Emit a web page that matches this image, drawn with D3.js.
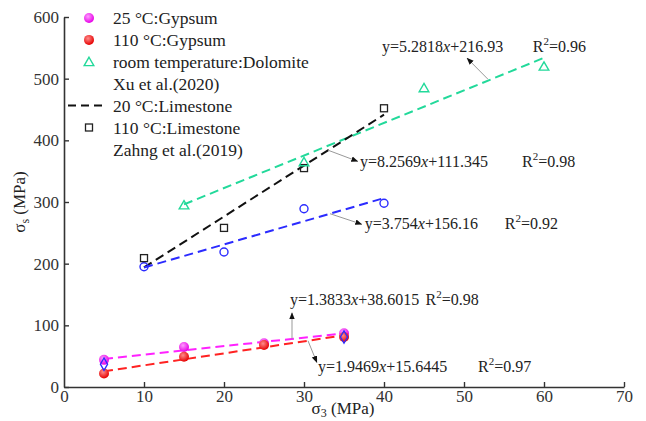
<!DOCTYPE html>
<html>
<head>
<meta charset="utf-8">
<script src="https://cdn.jsdelivr.net/npm/d3@7/dist/d3.min.js"></script>
<style>
  html, body { margin: 0; padding: 0; background: #fff; }
</style>
</head>
<body>
<svg id="chart" width="646" height="421"></svg>
<script>
// Confining pressure values (MPa) for each rock group
const gypsumX = [5, 15, 25, 35];
const gypsum25 = [44, 65, 71, 87];
const gypsum110 = [22, 49, 68, 81];
const extraX = [5, 35];
const extraY = [37, 81];
const dolomiteX = [15, 30, 45, 60];
const dolomiteY = [295, 365, 485, 520];
const limestoneX = [10, 20, 30, 40];
const limestone110 = [209, 258, 355, 452];
const limestone20 = [195, 219, 289, 298];

// Linear fits: slope, intercept, R², x-range
const fitNames = ["dolomite", "limestone110", "limestone20", "gypsum25", "gypsum110"];
const fitSlope = [5.2818, 8.2569, 3.754, 1.3833, 1.9469];
const fitIntercept = [216.93, 111.345, 156.16, 38.6015, 15.6445];
const fitR2 = ["0.96", "0.98", "0.92", "0.98", "0.97"];
const fitFrom = [15, 10, 10, 5, 5];
const fitTo = [60, 40, 40, 35, 35];
const fitColors = ["#22d99a", "#111111", "#2b2bff", "#ff22ff", "#ff2222"];
const fitSlopeText = ["5.2818", "8.2569", "3.754", "1.3833", "1.9469"];
const fitInterceptText = ["216.93", "111.345", "156.16", "38.6015", "15.6445"];
// Equation label anchors (data units): text x, baseline y, R² x, arrow tail, arrow head
const labelX = [39.75, 37, 37.6, 28.25, 31.75];
const labelY = [543, 357, 256, 133, 24];
const r2X = [58.6, 57.25, 55.1, 45.2, 51.75];
const arrowFromX = [53, 33, 33.25, 28.5, 30.5];
const arrowFromY = [499, 384, 281, 78, 75];
const arrowToX = [50.4, 36.7, 37.2, 28.5, 31.6];
const arrowToY = [533, 366, 264, 120, 40];

const xTicks = [0, 10, 20, 30, 40, 50, 60, 70];
const yTicks = [0, 100, 200, 300, 400, 500, 600];

const legendLabels = ["25 °C:Gypsum", "110 °C:Gypsum", "room temperature:Dolomite",
  "Xu et al.(2020)", "20 °C:Limestone", "110 °C:Limestone", "Zahng et al.(2019)"];

const FONT = "'Times New Roman', 'Liberation Serif', 'DejaVu Serif', serif";
const svg = d3.select("#chart").attr("font-family", FONT);
const x = d3.scaleLinear().domain([0, 70]).range([64, 624]);
const y = d3.scaleLinear().domain([0, 600]).range([387, 17]);

const defs = svg.append("defs");
function sphere(id, light, base) {
  const g = defs.append("radialGradient").attr("id", id)
    .attr("cx", "40%").attr("cy", "35%").attr("r", "65%");
  g.append("stop").attr("offset", "0%").attr("stop-color", light);
  g.append("stop").attr("offset", "100%").attr("stop-color", base);
}
sphere("gMag", "#ff9cff", "#e600e6");
sphere("gRed", "#ff8c8c", "#e60000");
defs.append("marker").attr("id", "arrowHead")
  .attr("viewBox", "0 0 10 10").attr("refX", 9).attr("refY", 5)
  .attr("markerWidth", 7).attr("markerHeight", 7).attr("orient", "auto")
  .append("path").attr("d", "M0,1 L10,5 L0,9 Z").attr("fill", "#111");

// Axes with inward ticks
const xAxis = svg.append("g").attr("transform", `translate(0,${y(0)})`)
  .call(d3.axisBottom(x).tickValues(xTicks).tickSizeInner(-5).tickSizeOuter(0).tickPadding(4));
const yAxis = svg.append("g").attr("transform", `translate(${x(0)},0)`)
  .call(d3.axisLeft(y).tickValues(yTicks).tickSizeInner(-5).tickSizeOuter(0).tickPadding(5));
[xAxis, yAxis].forEach(a => {
  a.attr("font-family", FONT).attr("font-size", 17);
  a.select(".domain").attr("stroke", "#333").attr("stroke-width", 1.6);
  a.selectAll(".tick line").attr("stroke", "#333").attr("stroke-width", 1.4);
  a.selectAll(".tick text").attr("fill", "#333");
});
xAxis.selectAll(".tick text").attr("y", 3);
// no inner tick at the origin
xAxis.selectAll(".tick").filter(d => d === 0).select("line").remove();

// axis titles
const xt = svg.append("text").attr("x", 343).attr("y", 414).attr("text-anchor", "middle")
  .attr("font-size", 17).attr("fill", "#222");
xt.append("tspan").text("σ");
xt.append("tspan").attr("font-size", 12).attr("dy", 3).text("3");
xt.append("tspan").attr("dy", -3).text(" (MPa)");
const yt = svg.append("text").attr("transform", "translate(25,202) rotate(-90)")
  .attr("text-anchor", "middle").attr("font-size", 17).attr("fill", "#222");
yt.append("tspan").text("σ");
yt.append("tspan").attr("font-size", 12).attr("dy", 4).text("s");
yt.append("tspan").attr("dy", -4).text(" (MPa)");

// Fit lines
const fitLine = d3.line().x(d => x(d[0])).y(d => y(d[1]));
fitNames.forEach((n, i) => {
  const pts = [fitFrom[i], fitTo[i]].map(v => [v, fitSlope[i] * v + fitIntercept[i]]);
  svg.append("path").attr("d", fitLine(pts)).attr("fill", "none")
    .attr("stroke", fitColors[i]).attr("stroke-width", 2)
    .attr("stroke-dasharray", "9,5");
});

// Markers
function circles(xs, ys, fill, r, stroke) {
  svg.append("g").selectAll("circle").data(xs).join("circle")
    .attr("cx", d => x(d)).attr("cy", (d, i) => y(ys[i])).attr("r", r)
    .attr("fill", fill).attr("stroke", stroke || "none").attr("stroke-width", 1.4);
}
circles(limestoneX, limestone20, "none", 4, "#2b2bff");
svg.append("g").selectAll("rect").data(limestoneX).join("rect")
  .attr("x", d => x(d) - 3.5).attr("y", (d, i) => y(limestone110[i]) - 3.5)
  .attr("width", 7).attr("height", 7).attr("fill", "none")
  .attr("stroke", "#222").attr("stroke-width", 1.3);
const tri = d3.symbol().type(d3.symbolTriangle).size(40);
svg.append("g").selectAll("path").data(dolomiteX).join("path")
  .attr("d", tri).attr("transform", (d, i) => `translate(${x(d)},${y(dolomiteY[i]) + 1})`)
  .attr("fill", "none").attr("stroke", "#22d99a").attr("stroke-width", 1.4);
circles(gypsumX, gypsum25, "url(#gMag)", 5);
circles(gypsumX, gypsum110, "url(#gRed)", 5);
const dia = d3.symbol().type(d3.symbolDiamond).size(45);
svg.append("g").selectAll("path").data(extraX).join("path")
  .attr("d", dia).attr("transform", (d, i) => `translate(${x(d)},${y(extraY[i])})`)
  .attr("fill", "none").attr("stroke", "#2b2bff").attr("stroke-width", 1.3);

// Equation labels with leader arrows
fitNames.forEach((n, i) => {
  svg.append("line")
    .attr("x1", x(arrowFromX[i])).attr("y1", y(arrowFromY[i]))
    .attr("x2", x(arrowToX[i])).attr("y2", y(arrowToY[i]))
    .attr("stroke", "#999").attr("stroke-width", 1)
    .attr("marker-end", "url(#arrowHead)");
  const t = svg.append("text").attr("x", x(labelX[i])).attr("y", y(labelY[i]))
    .attr("font-size", 16).attr("fill", "#222");
  t.append("tspan").text(`y=${fitSlopeText[i]}`);
  t.append("tspan").attr("font-style", "italic").text("x");
  t.append("tspan").text(`+${fitInterceptText[i]}`);
  const r = svg.append("text").attr("x", x(r2X[i])).attr("y", y(labelY[i]))
    .attr("font-size", 16).attr("fill", "#222");
  r.append("tspan").text("R");
  r.append("tspan").attr("font-size", 11).attr("dy", -7).text("2");
  r.append("tspan").attr("dy", 7).text(`=${fitR2[i]}`);
});

// Legend
const legY = d => 18 + d * 21.9;
const lg = svg.append("g");
legendLabels.forEach((lab, i) => {
  lg.append("text").attr("x", 113).attr("y", legY(i)).attr("dy", "0.35em")
    .attr("font-size", 17.5).attr("fill", "#222").text(lab);
});
lg.append("circle").attr("cx", 89).attr("cy", legY(0)).attr("r", 5).attr("fill", "url(#gMag)");
lg.append("circle").attr("cx", 89).attr("cy", legY(1)).attr("r", 5).attr("fill", "url(#gRed)");
lg.append("path").attr("d", tri).attr("transform", `translate(89,${legY(2) + 1})`)
  .attr("fill", "none").attr("stroke", "#22d99a").attr("stroke-width", 1.4);
lg.append("line").attr("x1", 68).attr("x2", 104).attr("y1", legY(4)).attr("y2", legY(4))
  .attr("stroke", "#111").attr("stroke-width", 2).attr("stroke-dasharray", "8,5");
lg.append("rect").attr("x", 85.5).attr("y", legY(5) - 3.5).attr("width", 7).attr("height", 7)
  .attr("fill", "none").attr("stroke", "#222").attr("stroke-width", 1.3);
</script>
</body>
</html>
